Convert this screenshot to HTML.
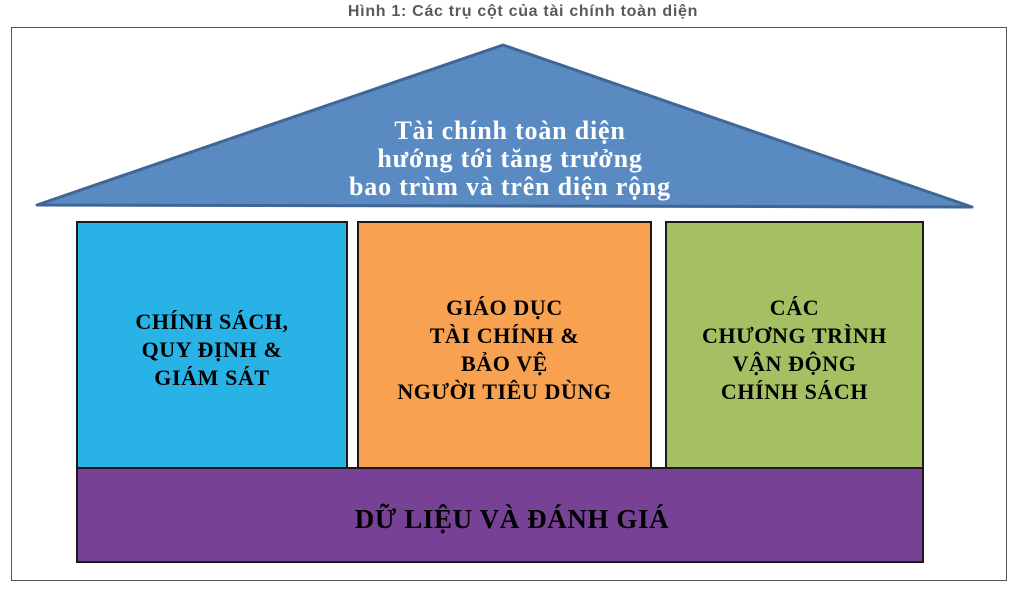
<!DOCTYPE html>
<html><head><meta charset="utf-8"><style>
body{margin:0;width:1022px;height:589px;background:#fff;position:relative;overflow:hidden;font-family:"Liberation Serif",serif}
.t{position:absolute;text-align:center;font-weight:bold;line-height:28px}
.box{position:absolute;border:2px solid #1a1a1a;box-sizing:border-box}
</style></head><body>
<div style="position:absolute;left:0;top:3px;width:1046px;text-align:center;font:bold 16px 'Liberation Sans',sans-serif;letter-spacing:0.7px;color:#5a5a5a">Hình 1: Các trụ cột của tài chính toàn diện</div>
<div style="position:absolute;left:11px;top:27px;width:996px;height:554px;border:1.5px solid #555;box-sizing:border-box"></div>
<svg style="position:absolute;left:0;top:0" width="1022" height="589">
<polygon points="37,205 503,45 972,207" fill="#5a8ac2" stroke="#3f6694" stroke-width="3" stroke-linejoin="round"/>
</svg>
<div class="t" style="left:290px;top:117px;width:440px;color:#fff;font-size:26px;letter-spacing:0.8px">Tài chính toàn diện<br>hướng tới tăng trưởng<br>bao trùm và trên diện rộng</div>
<div class="box" style="left:76px;top:221px;width:272px;height:248px;background:#29b2e6"></div>
<div class="box" style="left:357px;top:221px;width:295px;height:248px;background:#f8a150"></div>
<div class="box" style="left:665px;top:221px;width:259px;height:248px;background:#a5c063"></div>
<div class="box" style="left:76px;top:467px;width:848px;height:96px;background:#774196"></div>
<div class="t" style="left:66px;top:308px;width:292px;font-size:22px;letter-spacing:0.6px">CHÍNH SÁCH,<br>QUY ĐỊNH &amp;<br>GIÁM SÁT</div>
<div class="t" style="left:347px;top:294px;width:315px;font-size:22px;letter-spacing:0.6px">GIÁO DỤC<br>TÀI CHÍNH &amp;<br>BẢO VỆ<br>NGƯỜI TIÊU DÙNG</div>
<div class="t" style="left:655px;top:294px;width:279px;font-size:22px;letter-spacing:0.6px">CÁC<br>CHƯƠNG TRÌNH<br>VẬN ĐỘNG<br>CHÍNH SÁCH</div>
<div class="t" style="left:76px;top:505px;width:872px;font-size:27px;letter-spacing:0.6px">DỮ LIỆU VÀ ĐÁNH GIÁ</div>
</body></html>
